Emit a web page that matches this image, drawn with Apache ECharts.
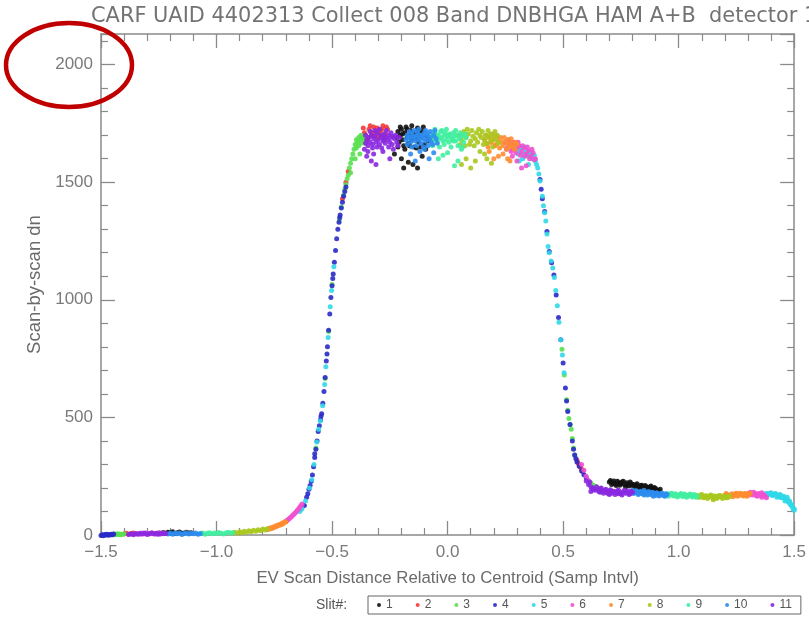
<!DOCTYPE html>
<html>
<head>
<meta charset="utf-8">
<script src="https://cdn.jsdelivr.net/npm/echarts@6/dist/echarts.min.js"></script>
<style>html,body{margin:0;padding:0;background:#fff;}#chart{width:809px;height:617px;}</style>
</head>
<body>
<div id="chart"></div>
<script>
// ---- data (flat x,y pairs) ----
const titleText = 'CARF UAID 4402313 Collect 008 Band DNBHGA HAM A+B  detector 1';
const xTitle = 'EV Scan Distance Relative to Centroid (Samp Intvl)';
const yTitle = 'Scan-by-scan dn';
const slitNames = ['1','2','3','4','5','6','7','8','9','10','11'];
const slitColors = ['#111111','#f23a3a','#58e050','#2a2ac8','#30d8e8','#f050d0','#ff8c30','#a8c81e','#40eea0','#2c8cf0','#8a28e0'];
const xTicks = [-1.5,-1.0,-0.5,0.0,0.5,1.0,1.5];
const yTicks = [0,500,1000,1500,2000];

const slit1 = [
 -1.26,6,-1.25,9,-1.24,5,-1.23,11,-1.22,7,-1.21,12,-1.20,8,-1.19,14,-1.18,6,-1.17,10,-1.16,13,-1.15,7,-1.14,9,-1.13,12,-1.12,8,-1.11,10,
 -0.22,1690,-0.215,1715,-0.21,1670,-0.205,1700,-0.20,1725,-0.195,1680,-0.19,1655,-0.185,1710,-0.18,1735,-0.175,1690,-0.17,1665,-0.165,1700,-0.16,1720,-0.155,1680,-0.15,1695,-0.145,1650,-0.14,1710,-0.135,1685,-0.13,1730,-0.125,1670,-0.12,1700,-0.115,1690,-0.11,1715,-0.10,1660,-0.09,1695,-0.085,1675,-0.20,1600,-0.17,1585,-0.13,1560,-0.23,1620,-0.11,1610,
 -0.215,1650,-0.205,1735,-0.195,1705,-0.185,1640,-0.175,1725,-0.165,1655,-0.155,1740,-0.145,1700,-0.135,1645,-0.125,1720,-0.115,1650,-0.105,1735,-0.095,1640,-0.15,1575,-0.19,1560,
 0.70,225,0.71,215,0.72,230,0.73,210,0.74,222,0.75,218,0.76,228,0.77,205,0.78,215,0.79,225,0.80,210,0.81,205,0.82,218,0.83,200,0.84,212,0.85,195,0.86,205,0.87,200,0.88,208,0.89,192,0.90,198,0.91,190,0.92,195,
 0.705,232,0.715,222,0.725,218,0.735,228,0.745,212,0.755,225,0.765,215,0.775,222,0.785,208,0.795,218,0.805,215,0.815,212,0.825,205,0.835,210,0.845,202,0.855,210,0.865,196,0.875,204,0.885,198,0.895,202
];
const slit2 = [
 -1.40,4,-1.39,7,-1.38,3,-1.37,6,-1.36,8,-1.35,4,
 -0.37,1690,-0.36,1710,-0.35,1680,-0.34,1725,-0.33,1700,-0.32,1735,-0.31,1715,-0.30,1690,-0.29,1720,-0.28,1740,-0.27,1705,-0.26,1725,-0.44,1500,-0.455,1430,-0.43,1545,
 -0.365,1730,-0.355,1700,-0.345,1690,-0.335,1740,-0.325,1710,-0.315,1695,-0.305,1730,-0.295,1705,-0.285,1725,-0.275,1690,-0.265,1735,
 0.56,318,0.565,305,0.57,295,0.575,288,0.58,280,0.585,270
];
const slit3 = [
 -1.45,2,-1.445,4,-1.44,1,-1.435,3,-1.43,5,-1.425,2,-1.42,4,-1.415,1,-1.41,3,-1.40,5,
 -0.57,370,-0.53,665,-0.515,865,-0.50,1065,-0.468,1340,-0.46,1395,
 -0.45,1445,-0.445,1470,-0.44,1490,-0.435,1515,-0.43,1530,-0.425,1560,-0.42,1580,-0.415,1600,-0.41,1620,-0.405,1640,-0.40,1660,-0.395,1645,-0.39,1670,-0.385,1655,-0.38,1680,-0.375,1665,-0.37,1690,-0.42,1540,-0.40,1600,-0.38,1620,
 -0.395,1680,-0.385,1690,-0.375,1700,-0.365,1680,-0.36,1695,-0.355,1665,
 0.495,790,0.505,680,0.515,575,0.52,530,0.525,495,0.53,470,0.535,450,0.54,410,0.545,370,0.55,340,
 0.62,222,0.63,212,0.64,205,0.65,200,0.66,198
];
const slit4 = [
 -1.50,-2,-1.495,1,-1.49,-3,-1.485,2,-1.48,0,-1.475,3,-1.47,-1,-1.465,2,-1.46,0,-1.455,3,-1.45,1,-1.445,4,
 -0.62,125,-0.61,160,-0.605,175,-0.60,195,-0.595,210,-0.59,228,-0.585,255,-0.58,290,-0.575,330,-0.57,365,-0.565,400,-0.56,440,-0.555,465,-0.55,490,-0.545,515,-0.54,560,-0.535,610,-0.53,670,-0.525,740,-0.52,800,-0.515,870,-0.51,940,-0.505,1010,-0.50,1060,-0.495,1110,-0.49,1160,-0.485,1210,-0.48,1260,-0.475,1300,-0.47,1330,-0.465,1360,-0.46,1390,-0.455,1415,-0.45,1440,-0.445,1460,-0.44,1480,
 -0.575,345,-0.548,505,-0.522,770,-0.497,1090,-0.467,1350,
 0.40,1511,0.405,1470,0.41,1430,0.42,1375,0.43,1290,0.44,1205,0.45,1157,0.46,1105,0.47,1020,0.48,925,0.49,830,0.50,731,0.51,625,0.515,570,0.52,525,0.53,470,0.54,400,0.545,365,0.55,340,0.555,325,0.56,310,0.57,292,0.58,272,0.59,256,0.60,242
];
const slit5 = [
 -0.64,100,-0.635,108,-0.63,112,-0.615,145,-0.598,200,-0.588,235,-0.578,300,-0.566,395,-0.558,450,-0.551,485,-0.541,550,-0.532,640,-0.527,715,-0.517,840,-0.508,970,-0.502,1040,-0.492,1140,
 0.28,1660,0.29,1640,0.30,1655,0.31,1630,0.32,1645,0.33,1620,0.34,1635,0.35,1610,0.36,1620,0.37,1600,0.38,1590,0.39,1560,0.395,1535,0.40,1505,0.41,1440,0.415,1400,0.42,1370,0.425,1335,0.43,1280,0.435,1227,0.44,1200,0.448,1165,0.455,1135,0.462,1095,0.468,1040,0.475,975,0.482,905,0.49,830,0.497,765,0.504,690,0.31,1590,0.35,1575,
 0.285,1640,0.295,1665,0.305,1620,0.315,1650,0.325,1600,0.335,1650,0.345,1615,0.355,1630,0.365,1600,0.375,1615,0.385,1575,
 1.38,178,1.39,172,1.40,180,1.41,170,1.42,176,1.43,165,1.44,172,1.45,160,1.46,155,1.47,150,1.475,140,1.48,135,1.485,128,1.49,122,1.495,112,1.50,105,1.44,160,1.46,145,
 1.385,170,1.395,178,1.405,168,1.415,174,1.425,160,1.435,170,1.445,158,1.455,165,1.465,152,1.47,160,1.48,145,1.49,130,1.50,112
];
const slit6 = [
 -1.34,6,-1.33,3,-1.32,9,-1.31,5,-1.30,8,-1.29,4,-1.28,10,-1.27,6,-1.26,3,-1.25,9,-1.24,5,-1.23,8,
 -0.70,58,-0.695,62,-0.69,66,-0.685,70,-0.68,74,-0.675,79,-0.67,84,-0.665,88,-0.66,94,-0.655,99,-0.65,105,-0.645,111,-0.64,118,-0.635,124,-0.63,132,
 0.25,1670,0.26,1650,0.27,1665,0.28,1640,0.29,1660,0.30,1645,0.31,1655,0.32,1630,0.33,1645,0.34,1620,0.35,1635,0.36,1610,0.37,1625,0.38,1600,0.30,1590,0.34,1570,0.28,1610,
 0.255,1640,0.265,1680,0.275,1630,0.285,1670,0.295,1625,0.305,1670,0.315,1615,0.325,1655,0.335,1610,0.345,1650,0.355,1600,0.365,1640,0.375,1595,0.32,1560,
 0.58,300,0.59,275,0.60,250,0.61,232,
 1.30,176,1.31,182,1.32,170,1.33,178,1.34,165,1.35,174,1.36,160,1.37,170,1.38,158,1.36,180,
 1.305,170,1.315,176,1.325,182,1.335,168,1.345,176,1.355,168,1.365,172,1.375,164
];
const slit7 = [
 -0.78,22,-0.775,28,-0.77,25,-0.765,31,-0.76,28,-0.755,34,-0.75,32,-0.745,38,-0.74,36,-0.735,42,-0.73,40,-0.725,46,-0.72,44,-0.715,51,-0.71,49,-0.705,56,-0.70,55,
 0.16,1680,0.17,1665,0.18,1690,0.19,1670,0.20,1685,0.21,1660,0.22,1675,0.23,1690,0.24,1655,0.25,1670,0.26,1680,0.27,1650,0.28,1665,0.29,1640,0.30,1660,0.20,1600,0.24,1620,0.27,1590,0.18,1630,
 0.165,1700,0.175,1650,0.185,1670,0.195,1705,0.205,1655,0.215,1695,0.225,1645,0.235,1670,0.245,1690,0.255,1640,0.265,1660,0.275,1685,0.285,1650,0.295,1670,0.22,1610,0.26,1600,
 1.20,168,1.21,172,1.22,165,1.23,175,1.24,168,1.25,178,1.26,170,1.27,176,1.28,166,1.29,174,1.30,170,1.31,178,
 1.205,176,1.215,162,1.225,170,1.235,163,1.245,175,1.255,165,1.265,177,1.275,168,1.285,176,1.295,165,1.305,175
];
const slit8 = [
 -0.93,8,-0.92,12,-0.91,7,-0.90,14,-0.89,10,-0.88,16,-0.87,12,-0.86,18,-0.85,14,-0.84,20,-0.83,16,-0.82,22,-0.81,18,-0.80,25,-0.79,21,-0.78,27,
 0.05,1700,0.06,1680,0.07,1715,0.08,1690,0.09,1705,0.10,1675,0.105,1720,0.11,1695,0.12,1685,0.125,1710,0.13,1670,0.14,1700,0.145,1690,0.15,1715,0.16,1680,0.165,1700,0.17,1665,0.18,1690,0.185,1705,0.19,1675,0.20,1695,0.21,1680,0.22,1665,0.08,1600,0.12,1590,0.16,1620,0.19,1580,0.10,1560,
 0.055,1660,0.065,1700,0.075,1655,0.085,1725,0.095,1660,0.115,1655,0.135,1725,0.155,1660,0.175,1720,0.195,1650,0.205,1715,0.215,1700,0.14,1630,0.06,1575,0.17,1600,
 1.08,168,1.09,160,1.10,172,1.11,158,1.12,166,1.13,162,1.14,170,1.15,156,1.16,165,1.17,160,1.18,168,1.19,155,1.20,163,1.21,158,1.22,166,1.15,150,
 1.085,162,1.095,170,1.105,160,1.115,167,1.125,155,1.135,168,1.145,160,1.155,166,1.165,155,1.175,168,1.185,160,1.195,166,1.205,158,1.215,165
];
const slit9 = [
 -1.07,5,-1.06,8,-1.05,3,-1.04,7,-1.03,10,-1.02,5,-1.01,9,-1.00,6,-0.99,11,-0.98,7,-0.97,4,-0.96,9,-0.95,12,-0.94,8,-0.93,10,
 -0.07,1690,-0.065,1705,-0.06,1680,-0.055,1710,-0.05,1695,-0.045,1670,-0.04,1700,-0.035,1685,-0.03,1715,-0.025,1690,-0.02,1675,-0.015,1700,-0.01,1710,-0.005,1680,0.0,1695,0.005,1670,0.01,1705,0.015,1690,0.02,1680,0.025,1710,0.03,1695,0.035,1675,0.04,1700,0.05,1685,0.06,1695,0.07,1670,0.08,1690,-0.04,1600,0.0,1625,0.03,1570,0.06,1640,
 -0.065,1655,-0.055,1725,-0.045,1700,-0.035,1650,-0.025,1720,-0.015,1660,-0.005,1725,0.005,1700,0.015,1650,0.025,1675,0.035,1720,0.045,1655,0.055,1710,0.065,1650,0.075,1705,-0.02,1615,0.045,1590,
 0.95,175,0.96,170,0.97,178,0.98,166,0.99,172,1.00,168,1.01,176,1.02,164,1.03,171,1.04,167,1.05,174,1.06,162,1.07,170,1.08,165,
 0.955,165,0.965,176,0.975,168,0.985,175,0.995,162,1.005,172,1.015,166,1.025,174,1.035,160,1.045,170,1.055,165,1.065,172,1.075,160
];
const slit10 = [
 -1.21,4,-1.20,7,-1.19,3,-1.18,9,-1.17,5,-1.16,8,-1.15,2,-1.14,6,-1.13,10,-1.12,4,-1.11,7,-1.10,5,-1.09,9,-1.08,3,-1.07,6,
 -0.18,1680,-0.175,1700,-0.17,1690,-0.165,1715,-0.16,1670,-0.155,1705,-0.15,1685,-0.145,1720,-0.14,1675,-0.135,1695,-0.13,1710,-0.125,1680,-0.12,1690,-0.115,1665,-0.11,1700,-0.105,1685,-0.10,1710,-0.095,1675,-0.09,1695,-0.085,1705,-0.08,1680,-0.075,1690,-0.07,1670,-0.06,1700,-0.05,1685,-0.16,1620,-0.12,1630,-0.08,1600,-0.10,1640,
 -0.175,1660,-0.165,1690,-0.155,1650,-0.145,1695,-0.135,1655,-0.125,1725,-0.115,1700,-0.105,1650,-0.095,1720,-0.085,1655,-0.075,1715,-0.065,1660,-0.055,1720,-0.045,1665,-0.14,1590,-0.06,1625,
 0.80,190,0.81,180,0.82,186,0.83,175,0.84,182,0.85,170,0.86,178,0.87,185,0.88,172,0.89,180,0.90,168,0.91,176,0.92,170,0.93,178,0.94,165,0.95,172,0.85,190,0.89,165,
 0.805,176,0.815,188,0.825,172,0.835,185,0.845,175,0.855,183,0.865,170,0.875,178,0.885,182,0.895,172,0.905,180,0.915,166,0.925,176,0.935,168,0.945,175
];
const slit11 = [
 -1.38,2,-1.37,5,-1.36,1,-1.35,6,-1.34,3,-1.33,7,-1.32,4,-1.31,8,-1.30,2,-1.29,6,-1.28,9,-1.27,4,-1.26,7,-1.25,3,-1.24,8,-1.23,5,-1.22,6,
 -0.36,1640,-0.355,1665,-0.35,1680,-0.345,1655,-0.34,1690,-0.335,1670,-0.33,1700,-0.325,1660,-0.32,1685,-0.315,1695,-0.31,1670,-0.305,1710,-0.30,1680,-0.295,1660,-0.29,1700,-0.285,1690,-0.28,1675,-0.275,1705,-0.27,1665,-0.265,1690,-0.26,1680,-0.255,1700,-0.25,1670,-0.245,1690,-0.24,1660,-0.235,1695,-0.23,1685,-0.22,1670,-0.21,1690,-0.35,1610,-0.32,1620,-0.28,1630,-0.25,1600,-0.33,1590,
 -0.355,1700,-0.345,1630,-0.335,1715,-0.325,1645,-0.315,1720,-0.305,1650,-0.295,1725,-0.285,1645,-0.275,1680,-0.265,1720,-0.255,1650,-0.245,1710,-0.235,1640,-0.225,1700,-0.215,1655,-0.31,1575,
 0.60,230,0.61,215,0.62,205,0.63,200,0.64,195,0.65,190,0.66,195,0.67,185,0.68,190,0.69,180,0.70,188,0.71,178,0.72,185,0.73,180,0.74,190,0.75,176,0.76,184,0.77,178,0.78,186,0.79,175,0.80,182,0.62,185,0.66,182,0.70,172,0.74,175,
 0.615,225,0.625,195,0.635,190,0.645,205,0.655,185,0.665,200,0.675,178,0.685,195,0.695,176,0.705,192,0.715,185,0.725,172,0.735,188,0.745,180,0.755,170,0.765,190,0.775,183,0.785,172,0.795,186
];
const slitData = [slit1,slit2,slit3,slit4,slit5,slit6,slit7,slit8,slit9,slit10,slit11];

function pairs(flat){ const out=[]; for(let i=0;i<flat.length;i+=2) out.push([flat[i],flat[i+1]]); return out; }

const chart = echarts.init(document.getElementById('chart'), null, {renderer:'canvas'});
const axisColor = '#8a8a8a';
const labelColor = '#7a7a7a';
const fontFam = 'Liberation Sans, Arial, sans-serif';
const fmtX = v => v.toFixed(1).replace('-', '\u2212');

function xAxisCfg(pos, showLabels){
  return {
    type:'value', position:pos, min:xTicks[0], max:xTicks[xTicks.length-1], interval:0.5,
    axisLine:{show:true, onZero:false, lineStyle:{color:axisColor, width:1.5}},
    axisTick:{show:true, inside:true, length:14, lineStyle:{color:axisColor, width:1.3}},
    minorTick:{show:true, splitNumber:5, length:7, lineStyle:{color:axisColor, width:1.2}},
    splitLine:{show:false}, minorSplitLine:{show:false},
    axisLabel:{show:showLabels, formatter:fmtX, color:labelColor, fontSize:17, fontFamily:fontFam, margin:9},
    name: showLabels ? xTitle : '', nameLocation:'middle', nameGap:35,
    nameTextStyle:{color:'#6a6a6a', fontSize:16.8, fontFamily:fontFam}
  };
}
function yAxisCfg(pos, showLabels){
  return {
    type:'value', position:pos, min:yTicks[0], max:2130, interval:500,
    axisLine:{show:true, onZero:false, lineStyle:{color:axisColor, width:1.5}},
    axisTick:{show:true, inside:true, length:14, lineStyle:{color:axisColor, width:1.3}},
    minorTick:{show:true, splitNumber:5, length:7, lineStyle:{color:axisColor, width:1.2}},
    splitLine:{show:false}, minorSplitLine:{show:false},
    axisLabel:{show:showLabels, formatter:v=>String(v), showMaxLabel:false, color:labelColor, fontSize:17, fontFamily:fontFam, margin:8},
    name: showLabels ? yTitle : '', nameLocation:'middle', nameGap:57, nameRotate:90,
    nameTextStyle:{color:'#6a6a6a', fontSize:18.5, fontFamily:fontFam}
  };
}

const series = slitNames.map((n,i)=>({
  name:n, type:'scatter', xAxisIndex:0, yAxisIndex:0, clip:false,
  symbol:'circle', symbolSize:5,
  itemStyle:{color:slitColors[i], opacity:0.9},
  data: pairs(slitData[i]),
  emphasis:{disabled:true}
}));

chart.setOption({
  animation:false,
  backgroundColor:'#ffffff',
  title:{text:titleText, left:86, top:1, textStyle:{color:'#737373', fontSize:20.9, fontWeight:'normal', fontFamily:'DejaVu Sans, sans-serif'}},
  grid:{left:101, right:12, top:34, bottom:82, containLabel:false},
  xAxis:[xAxisCfg('bottom', true), xAxisCfg('top', false)],
  yAxis:[yAxisCfg('left', true), yAxisCfg('right', false)],
  legend:{
    data:slitNames, left:368, top:596, orient:'horizontal',
    icon:'circle', itemWidth:4, itemHeight:4, itemGap:23,
    borderColor:'#666', borderWidth:1, padding:[3,9,3,9],
    textStyle:{color:'#555', fontSize:12, fontFamily:fontFam}, selectedMode:false
  },
  graphic:[
    {type:'text', left:316, top:598, style:{text:'Slit#:', fill:'#555', font:'14px Liberation Sans, Arial, sans-serif'}},
    {type:'ellipse', shape:{cx:69, cy:65, rx:63, ry:42}, style:{fill:'none', stroke:'#c00000', lineWidth:4.5}, z:100}
  ],
  series: series
});
</script>
</body>
</html>
